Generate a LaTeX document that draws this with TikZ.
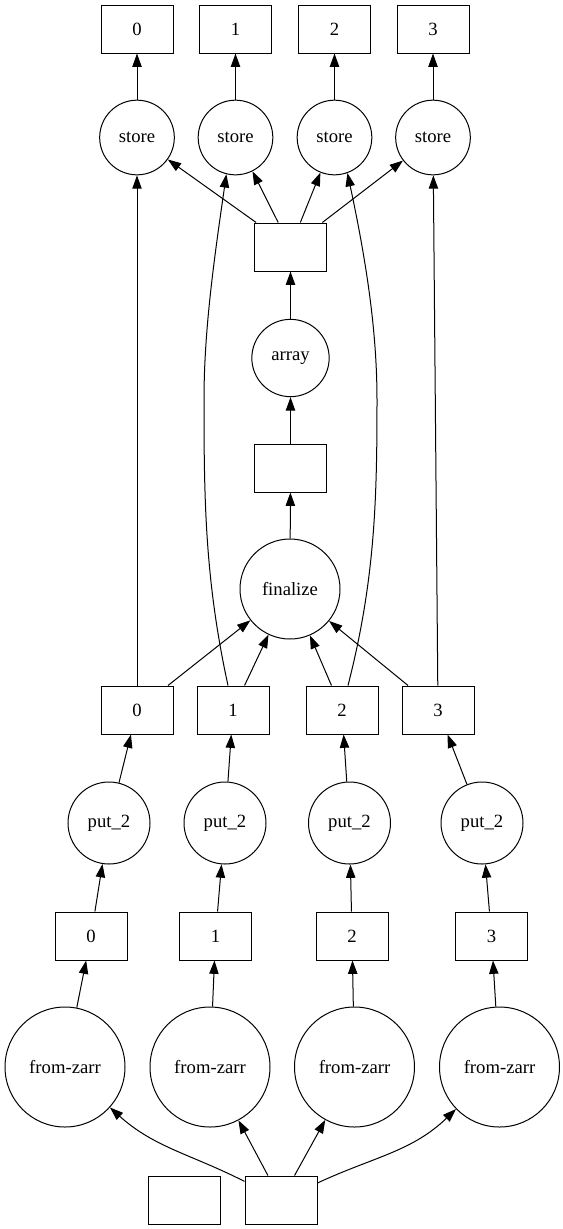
\documentclass[tikz,border=0pt]{standalone}
\usepackage{fontspec}
\setmainfont{Liberation Serif}
\usetikzlibrary{arrows.meta}

\tikzset{
  box/.style={draw, rectangle, minimum width=54pt, minimum height=36pt, inner sep=0pt},
  task/.style={draw, circle, inner sep=0pt},
}

\begin{document}
\begin{tikzpicture}[x=0.75pt, y=0.75pt, line width=0.75pt,
    font=\fontsize{14}{16}\selectfont, >={Triangle[length=10pt,width=7pt]}]
    \useasboundingbox (0,0) rectangle (562,-1229);

    % stored chunks
    \foreach \i/\x in {0/137, 1/235.5, 2/334.5, 3/433} {
        \node[box] (out\i) at (\x,-29) {\i};
        \node[task, minimum size=56pt] (store\i) at (\x,-137.5) {store};
    }

    % array chain
    \node[box] (arr-out) at (290.5,-247) {};
    \node[task, minimum size=58pt] (array) at (290.5,-358) {array};
    \node[box] (arr-in) at (290.5,-468) {};
    \node[task, minimum size=75pt] (finalize) at (290,-589) {finalize};

    % chunks from zarr
    \foreach \i/\x in {0/137, 1/233, 2/342, 3/438}
        \node[box] (chunk\i) at (\x,-710) {\i};
    \foreach \i/\x in {0/109, 1/225, 2/349.5, 3/482}
        \node[task, minimum size=61.5pt] (put\i) at (\x,-823) {put\_2};
    \foreach \i/\x in {0/91, 1/215.5, 2/352, 3/491.5}
        \node[box] (part\i) at (\x,-936) {\i};
    \foreach \i/\x in {0/65, 1/210, 2/354.5, 3/499.5}
        \node[task, minimum size=90pt] (zarr\i) at (\x,-1067) {from-zarr};
    \node[box] (src-a) at (184.5,-1200) {};
    \node[box] (src-b) at (281,-1200) {};

    % dependencies
    \foreach \i in {0,...,3} {
        \draw[->] (store\i) -- (out\i);
        \draw[->] (arr-out) -- (store\i);
        \draw[->] (chunk\i) -- (finalize);
        \draw[->] (put\i) -- (chunk\i);
        \draw[->] (part\i) -- (put\i);
        \draw[->] (zarr\i) -- (part\i);
    }
    \draw[->] (finalize) -- (arr-in);
    \draw[->] (arr-in) -- (array);
    \draw[->] (array) -- (arr-out);

    \draw[->] (chunk0) -- (store0);
    \draw[->] (chunk3) -- (store3);
    \draw[->] ([xshift=-3.75pt]chunk1.north) .. controls (205,-580) and (204,-500) .. (204,-400)
        .. controls (204,-330) and (214,-260) .. (store1.-104);
    \draw[->] ([xshift=4.5pt]chunk2.north) .. controls (375,-580) and (377,-500) .. (377,-400)
        .. controls (377,-330) and (366,-260) .. (store2.-70);

    \draw[->] (src-b) to[out=153, in=-42] (zarr0);
    \draw[->] (src-b) -- (zarr1);
    \draw[->] (src-b) -- (zarr2);
    \draw[->] (src-b) to[out=25, in=-136] (zarr3);
\end{tikzpicture}
\end{document}
